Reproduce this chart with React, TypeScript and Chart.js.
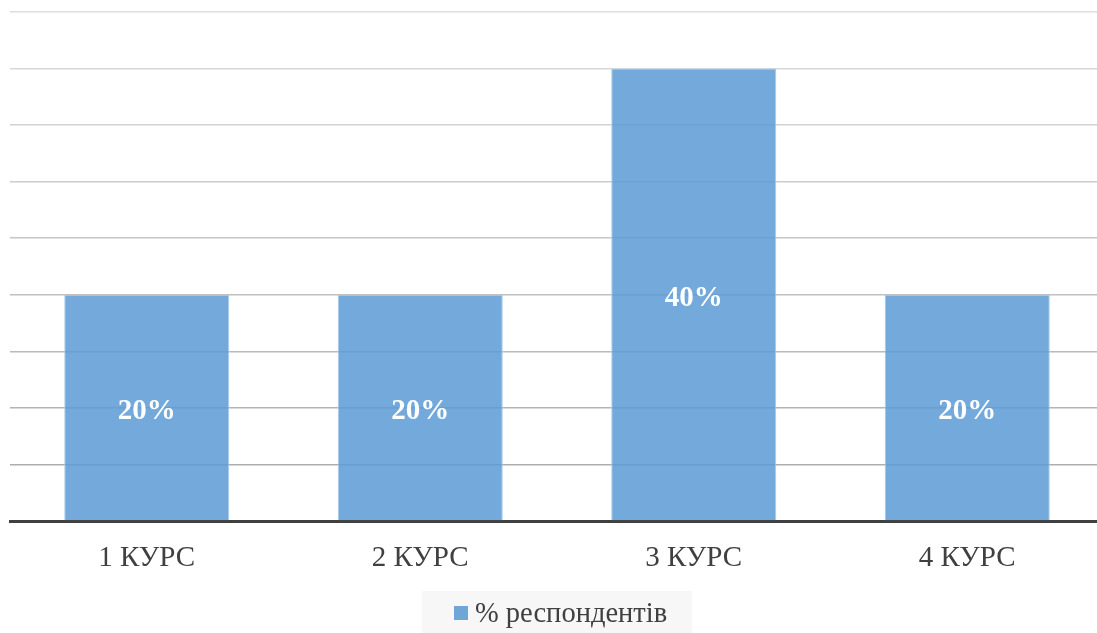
import React, { useEffect, useRef } from "react";
import { Chart, registerables } from "chart.js";

Chart.register(...registerables);

const categories = ["1 КУРС", "2 КУРС", "3 КУРС", "4 КУРС"];
const values = [20, 20, 40, 20];
const seriesName = "% респондентів";
const yMax = 45;
const yStep = 5;

const FONT = "'Liberation Serif', 'Times New Roman', serif";

const dataLabelPlugin = {
  id: "dataLabels",
  afterDatasetsDraw(chart: any) {
    const ctx = chart.ctx;
    const meta = chart.getDatasetMeta(0);
    ctx.save();
    ctx.fillStyle = "#ffffff";
    ctx.font = `bold 29px ${FONT}`;
    ctx.textAlign = "center";
    ctx.textBaseline = "middle";
    meta.data.forEach((bar: any, i: number) => {
      const y = (bar.y + bar.base) / 2;
      ctx.fillText(`${values[i]}%`, bar.x, y + 4);
    });
    ctx.restore();
  },
};

const customLegendPlugin = {
  id: "customLegend",
  afterDraw(chart: any) {
    const ctx = chart.ctx;
    ctx.save();
    ctx.font = `28.5px ${FONT}`;
    const sq = 14;
    const gap = 7;
    const left = 422;
    const right = 692;
    const top = 591;
    ctx.fillStyle = "#f7f7f7";
    ctx.fillRect(left, top, right - left, chart.height - top);
    const midY = 613;
    ctx.fillStyle = "#70a5d8";
    ctx.fillRect(454, midY - sq / 2, sq, sq);
    ctx.fillStyle = "#404040";
    ctx.textAlign = "left";
    ctx.textBaseline = "middle";
    ctx.fillText(seriesName, 454 + sq + gap, midY + 2);
    ctx.restore();
  },
};

export default function App() {
  const ref = useRef<HTMLCanvasElement | null>(null);
  useEffect(() => {
    document.body.style.margin = "0";
    const chart = new Chart(ref.current as HTMLCanvasElement, {
      type: "bar",
      data: {
        labels: categories,
        datasets: [
          {
            label: seriesName,
            data: values,
            backgroundColor: "rgba(91,155,213,0.85)",
            borderColor: "rgba(170,205,236,1)",
            borderWidth: 1,
            categoryPercentage: 1,
            barPercentage: 0.6035,
          },
        ],
      },
      options: {
        animation: false,
        responsive: false,
        maintainAspectRatio: false,
        layout: { padding: { left: 10, right: 0, top: 12, bottom: 0 } },
        scales: {
          x: {
            grid: { display: false },
            border: { display: true, color: "#404040", width: 3 },
            ticks: {
              color: "#404040",
              font: { family: FONT, size: 29 },
              padding: 12,
            },
            afterFit(scale: any) {
              scale.height = 112;
            },
          },
          y: {
            min: 0,
            max: yMax,
            ticks: { display: false, stepSize: yStep },
            border: { display: false },
            grid: {
              drawTicks: false,
              color: (c: any) => {
                const t = c.index / (yMax / yStep);
                const v = Math.round(168 + (222 - 168) * t);
                return `rgb(${v},${v},${v})`;
              },
              lineWidth: 1.5,
            },
            afterFit(scale: any) {
              scale.width = 0;
            },
          },
        },
        plugins: {
          legend: { display: false },
          tooltip: { enabled: false },
        },
      },
      plugins: [dataLabelPlugin, customLegendPlugin],
    });
    return () => chart.destroy();
  }, []);
  return (
    <div style={{ position: "absolute", left: 0, top: 0, width: 1097, height: 633, overflow: "hidden" }}>
      <canvas ref={ref} width={1104} height={633} style={{ width: 1104, height: 633, display: "block" }} />
    </div>
  );
}
